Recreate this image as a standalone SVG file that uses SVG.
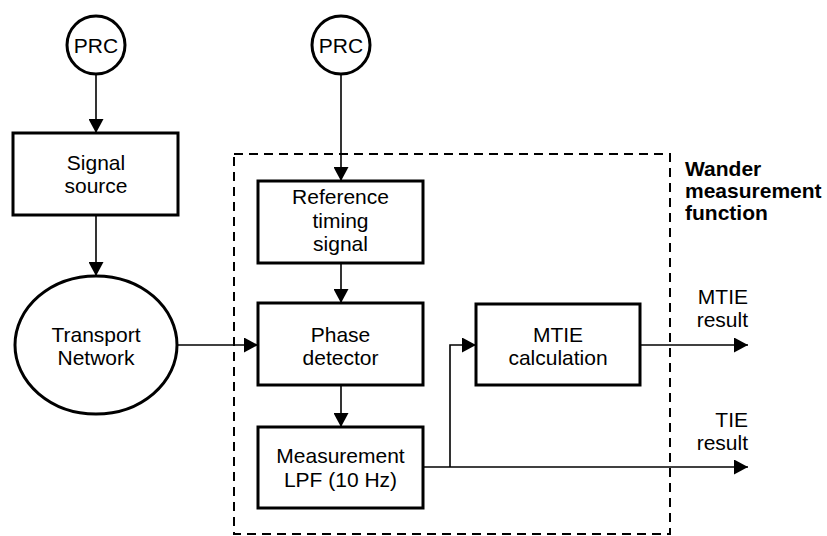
<svg xmlns="http://www.w3.org/2000/svg" width="827" height="536" viewBox="0 0 827 536">
<defs>
<marker id="ah" markerWidth="15" markerHeight="15" refX="14" refY="7.5" orient="auto" markerUnits="userSpaceOnUse">
<path d="M0,0 L14,7.5 L0,15 Z" fill="#000"/>
</marker>
<style>
.box{fill:#fff;stroke:#000;stroke-width:3}
.t{font-family:"Liberation Sans",Arial,sans-serif;font-size:21px;fill:#000;text-anchor:middle}
.b{font-family:"Liberation Sans",Arial,sans-serif;font-size:21px;font-weight:bold;fill:#000}
.c{fill:none;stroke:#000;stroke-width:1.6}
.ca{fill:none;stroke:#000;stroke-width:1.6;marker-end:url(#ah)}
</style>
</defs>
<rect width="827" height="536" fill="#fff"/>
<g id="wander-function">
<rect x="234" y="154" width="436" height="380" fill="none" stroke="#000" stroke-width="2" stroke-dasharray="9,6"/>
<text class="b" x="685" y="176">Wander</text>
<text class="b" x="685" y="198">measurement</text>
<text class="b" x="685" y="220">function</text>
</g>
<g id="connectors">
<line class="ca" x1="96" y1="74" x2="96" y2="133"/>
<line class="ca" x1="341" y1="74" x2="341" y2="181"/>
<line class="ca" x1="96" y1="215" x2="96" y2="276"/>
<line class="ca" x1="177" y1="345" x2="258" y2="345"/>
<line class="ca" x1="341" y1="263" x2="341" y2="303"/>
<line class="ca" x1="341" y1="385" x2="341" y2="427"/>
<line class="ca" x1="423" y1="467" x2="748" y2="467"/>
<polyline class="ca" points="450,467 450,345 476,345"/>
<line class="ca" x1="640" y1="345" x2="748" y2="345"/>
</g>
<g id="prc1">
<circle cx="96" cy="45" r="29" fill="#fff" stroke="#000" stroke-width="3"/>
<text class="t" x="96" y="53">PRC</text>
</g>
<g id="prc2">
<circle cx="341" cy="45" r="29" fill="#fff" stroke="#000" stroke-width="3"/>
<text class="t" x="341" y="53">PRC</text>
</g>
<g id="signal-source">
<rect class="box" x="13" y="133" width="165" height="82"/>
<text class="t" x="96" y="170">Signal</text>
<text class="t" x="96" y="193">source</text>
</g>
<g id="transport-network">
<ellipse cx="96" cy="345" rx="81" ry="69" fill="#fff" stroke="#000" stroke-width="3"/>
<text class="t" x="96" y="342">Transport</text>
<text class="t" x="96" y="365">Network</text>
</g>
<g id="reference-timing">
<rect class="box" x="258" y="181" width="165" height="82"/>
<text class="t" x="340.5" y="204">Reference</text>
<text class="t" x="340.5" y="228">timing</text>
<text class="t" x="340.5" y="251">signal</text>
</g>
<g id="phase-detector">
<rect class="box" x="258" y="303" width="165" height="82"/>
<text class="t" x="340.5" y="342">Phase</text>
<text class="t" x="340.5" y="365">detector</text>
</g>
<g id="lpf">
<rect class="box" x="258" y="427" width="165" height="81"/>
<text class="t" x="340.5" y="463">Measurement</text>
<text class="t" x="340.5" y="487">LPF (10 Hz)</text>
</g>
<g id="mtie-calc">
<rect class="box" x="476" y="304" width="164" height="81"/>
<text class="t" x="558" y="342">MTIE</text>
<text class="t" x="558" y="365">calculation</text>
</g>
<g id="labels">
<text class="t" x="748" y="304" style="text-anchor:end">MTIE</text>
<text class="t" x="748" y="327" style="text-anchor:end">result</text>
<text class="t" x="748" y="427" style="text-anchor:end">TIE</text>
<text class="t" x="748" y="450" style="text-anchor:end">result</text>
</g>
</svg>
